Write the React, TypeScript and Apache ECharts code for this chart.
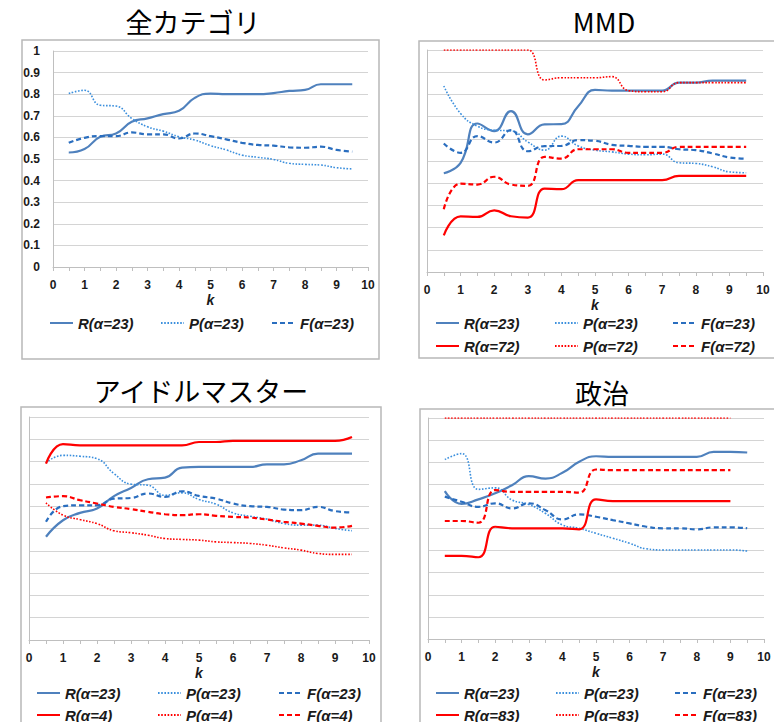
import React, { useEffect, useRef } from 'react';
import * as echarts from 'echarts';

// k values (x)
const K = [0.5, 1, 1.5, 2, 2.5, 3, 3.5, 4, 4.5, 5, 5.5, 6, 6.5, 7, 7.5, 8, 8.5, 9, 9.5];
const X_TICKS = [0, 1, 2, 3, 4, 5, 6, 7, 8, 9, 10];
const TITLES = ['全カテゴリ', 'MMD', 'アイドルマスター', '政治'];

// 全カテゴリ
const ALL_R23 = [0.53, 0.546, 0.603, 0.618, 0.672, 0.688, 0.708, 0.723, 0.783, 0.803, 0.8, 0.8, 0.8, 0.805, 0.815, 0.82, 0.846, 0.846, 0.846];
const ALL_P23 = [0.803, 0.818, 0.749, 0.745, 0.688, 0.649, 0.629, 0.603, 0.588, 0.562, 0.542, 0.518, 0.508, 0.498, 0.48, 0.475, 0.472, 0.46, 0.454];
const ALL_F23 = [0.575, 0.598, 0.606, 0.606, 0.623, 0.614, 0.614, 0.595, 0.618, 0.606, 0.591, 0.575, 0.565, 0.562, 0.554, 0.552, 0.557, 0.542, 0.534];

// MMD
const MMD_R23 = [0.445, 0.492, 0.669, 0.635, 0.725, 0.62, 0.665, 0.666, 0.747, 0.82, 0.817, 0.817, 0.817, 0.817, 0.853, 0.853, 0.862, 0.862, 0.862];
const MMD_P23 = [0.838, 0.714, 0.657, 0.639, 0.636, 0.586, 0.549, 0.612, 0.568, 0.549, 0.541, 0.531, 0.528, 0.531, 0.492, 0.489, 0.474, 0.451, 0.447];
const MMD_F23 = [0.579, 0.537, 0.612, 0.583, 0.639, 0.544, 0.567, 0.568, 0.594, 0.591, 0.573, 0.568, 0.564, 0.564, 0.553, 0.549, 0.534, 0.516, 0.51];
const MMD_R72 = [0.165, 0.251, 0.248, 0.278, 0.251, 0.245, 0.376, 0.373, 0.414, 0.414, 0.414, 0.414, 0.414, 0.414, 0.433, 0.433, 0.433, 0.433, 0.433];
const MMD_P72 = [1, 1, 1, 1, 1, 1, 0.865, 0.875, 0.875, 0.875, 0.88, 0.817, 0.812, 0.812, 0.853, 0.853, 0.853, 0.853, 0.853];
const MMD_F72 = [0.283, 0.398, 0.394, 0.429, 0.394, 0.388, 0.519, 0.511, 0.553, 0.553, 0.553, 0.537, 0.537, 0.537, 0.564, 0.564, 0.564, 0.564, 0.564];

// アイドルマスター
const IDOL_R23 = [0.463, 0.537, 0.57, 0.59, 0.645, 0.682, 0.721, 0.728, 0.773, 0.776, 0.776, 0.776, 0.776, 0.788, 0.788, 0.806, 0.836, 0.836, 0.836];
const IDOL_P23 = [0.794, 0.828, 0.824, 0.813, 0.746, 0.699, 0.694, 0.649, 0.66, 0.63, 0.609, 0.57, 0.555, 0.542, 0.522, 0.515, 0.515, 0.5, 0.49];
const IDOL_F23 = [0.53, 0.6, 0.604, 0.604, 0.634, 0.637, 0.657, 0.642, 0.667, 0.646, 0.634, 0.612, 0.6, 0.597, 0.585, 0.582, 0.597, 0.578, 0.572];
const IDOL_R4 = [0.791, 0.878, 0.873, 0.873, 0.873, 0.873, 0.873, 0.873, 0.873, 0.888, 0.888, 0.893, 0.893, 0.893, 0.893, 0.893, 0.893, 0.893, 0.91];
const IDOL_P4 = [0.615, 0.56, 0.54, 0.522, 0.49, 0.481, 0.47, 0.455, 0.451, 0.448, 0.44, 0.437, 0.433, 0.425, 0.413, 0.403, 0.388, 0.384, 0.384];
const IDOL_F4 = [0.639, 0.645, 0.627, 0.612, 0.597, 0.587, 0.575, 0.564, 0.56, 0.564, 0.557, 0.552, 0.549, 0.54, 0.53, 0.522, 0.512, 0.504, 0.512];

// 政治
const POL_R23 = [0.669, 0.611, 0.632, 0.659, 0.696, 0.737, 0.726, 0.752, 0.802, 0.827, 0.824, 0.824, 0.824, 0.824, 0.824, 0.824, 0.847, 0.847, 0.844];
const POL_P23 = [0.812, 0.839, 0.677, 0.684, 0.629, 0.609, 0.568, 0.516, 0.501, 0.478, 0.456, 0.433, 0.408, 0.403, 0.403, 0.403, 0.403, 0.403, 0.398];
const POL_F23 = [0.644, 0.621, 0.598, 0.614, 0.591, 0.614, 0.583, 0.541, 0.564, 0.553, 0.538, 0.523, 0.508, 0.501, 0.501, 0.496, 0.505, 0.505, 0.501];
const POL_R83 = [0.376, 0.376, 0.37, 0.508, 0.501, 0.501, 0.501, 0.501, 0.496, 0.632, 0.624, 0.624, 0.624, 0.624, 0.624, 0.624, 0.624, 0.624];
const POL_P83 = [1, 1, 1, 1, 1, 1, 1, 1, 1, 1, 1, 1, 1, 1, 1, 1, 1, 1];
const POL_F83 = [0.534, 0.534, 0.526, 0.674, 0.666, 0.666, 0.666, 0.666, 0.662, 0.767, 0.764, 0.764, 0.764, 0.764, 0.764, 0.764, 0.764, 0.764];

const C_R = '#4f81bd';
const C_P = '#3b8fdd';
const C_F = '#2a6ebf';
const C_RED = '#ff0000';

type S = { name: string; vals: number[]; color: string; kind: 'R' | 'P' | 'F' };

const PANELS: { series: S[]; grid: any; box: number[]; title: number[]; legendX: number[]; legendY: number[]; yLabels: boolean }[] = [
  {
    series: [
      { name: 'R(α=23)', vals: ALL_R23, color: C_R, kind: 'R' },
      { name: 'P(α=23)', vals: ALL_P23, color: C_P, kind: 'P' },
      { name: 'F(α=23)', vals: ALL_F23, color: C_F, kind: 'F' },
    ],
    grid: { left: 53, top: 51, width: 315, height: 216 },
    box: [22, 40, 357, 319],
    title: [193, 21],
    legendX: [77, 188, 299],
    legendY: [323],
    yLabels: true,
  },
  {
    series: [
      { name: 'R(α=23)', vals: MMD_R23, color: C_R, kind: 'R' },
      { name: 'P(α=23)', vals: MMD_P23, color: C_P, kind: 'P' },
      { name: 'F(α=23)', vals: MMD_F23, color: C_F, kind: 'F' },
      { name: 'R(α=72)', vals: MMD_R72, color: C_RED, kind: 'R' },
      { name: 'P(α=72)', vals: MMD_P72, color: C_RED, kind: 'P' },
      { name: 'F(α=72)', vals: MMD_F72, color: C_RED, kind: 'F' },
    ],
    grid: { left: 427, top: 50, width: 336, height: 222 },
    box: [419, 41, 370, 317],
    title: [604, 21],
    legendX: [463, 582, 700],
    legendY: [323, 346],
    yLabels: false,
  },
  {
    series: [
      { name: 'R(α=23)', vals: IDOL_R23, color: C_R, kind: 'R' },
      { name: 'P(α=23)', vals: IDOL_P23, color: C_P, kind: 'P' },
      { name: 'F(α=23)', vals: IDOL_F23, color: C_F, kind: 'F' },
      { name: 'R(α=4)', vals: IDOL_R4, color: C_RED, kind: 'R' },
      { name: 'P(α=4)', vals: IDOL_P4, color: C_RED, kind: 'P' },
      { name: 'F(α=4)', vals: IDOL_F4, color: C_RED, kind: 'F' },
    ],
    grid: { left: 29, top: 417, width: 340, height: 223 },
    box: [21, 407, 360, 330],
    title: [201, 390],
    legendX: [64, 185, 306],
    legendY: [693, 715],
    yLabels: false,
  },
  {
    series: [
      { name: 'R(α=23)', vals: POL_R23, color: C_R, kind: 'R' },
      { name: 'P(α=23)', vals: POL_P23, color: C_P, kind: 'P' },
      { name: 'F(α=23)', vals: POL_F23, color: C_F, kind: 'F' },
      { name: 'R(α=83)', vals: POL_R83, color: C_RED, kind: 'R' },
      { name: 'P(α=83)', vals: POL_P83, color: C_RED, kind: 'P' },
      { name: 'F(α=83)', vals: POL_F83, color: C_RED, kind: 'F' },
    ],
    grid: { left: 428, top: 418, width: 336, height: 221 },
    box: [420, 409, 370, 330],
    title: [602, 392],
    legendX: [463, 583, 702],
    legendY: [693, 715],
    yLabels: false,
  },
];

const FONT = "'Liberation Sans', Arial, sans-serif";

function lineStyleFor(kind: string, color: string) {
  if (kind === 'R') return { color, width: 2.2, type: 'solid' };
  if (kind === 'P') return { color, width: 1.6, type: [1.6, 1.6] };
  return { color, width: 2.2, type: [5, 3] };
}

function buildOption() {
  const grid: any[] = [];
  const xAxis: any[] = [];
  const yAxis: any[] = [];
  const series: any[] = [];
  const legend: any[] = [];
  const graphic: any[] = [];

  PANELS.forEach((p, i) => {
    grid.push({ ...p.grid, containLabel: false });
    xAxis.push({
      type: 'value',
      gridIndex: i,
      min: X_TICKS[0],
      max: X_TICKS[X_TICKS.length - 1],
      interval: 0.5,
      name: 'k',
      nameLocation: 'middle',
      nameGap: 26,
      nameTextStyle: { fontFamily: FONT, fontSize: 14, fontWeight: 'bold', fontStyle: 'italic', color: '#1a1a1a' },
      axisLine: { show: true, lineStyle: { color: '#bfbfbf', width: 1 } },
      axisTick: { show: true, length: 4, lineStyle: { color: '#bfbfbf' } },
      axisLabel: {
        margin: 12,
        fontFamily: FONT,
        fontSize: 12,
        fontWeight: 'bold',
        color: '#1a1a1a',
        formatter: (v: number) => (X_TICKS.includes(v) ? String(v) : ''),
      },
      splitLine: { show: false },
    });
    yAxis.push({
      type: 'value',
      gridIndex: i,
      min: 0,
      max: 1,
      interval: 0.1,
      axisLine: { show: true, lineStyle: { color: '#bfbfbf', width: 1 } },
      axisTick: { show: false },
      axisLabel: {
        show: p.yLabels,
        margin: 13,
        fontFamily: FONT,
        fontSize: 12,
        fontWeight: 'bold',
        color: '#1a1a1a',
        formatter: (v: number) => String(Math.round(v * 10) / 10),
      },
      splitLine: { show: true, lineStyle: { color: '#d4d4d4', width: 1 } },
    });
    p.series.forEach((s) => {
      series.push({
        name: s.name,
        type: 'line',
        xAxisIndex: i,
        yAxisIndex: i,
        smooth: true,
        symbol: 'none',
        clip: true,
        data: s.vals.map((v, j) => [K[j], v]),
        lineStyle: lineStyleFor(s.kind, s.color),
        itemStyle: { color: s.color },
      });
    });
    p.series.forEach((s, j) => {
      const col = j % 3;
      const row = Math.floor(j / 3);
      legend.push({
        show: true,
        selectedMode: false,
        orient: 'horizontal',
        left: p.legendX[col] - 28,
        top: p.legendY[row] - 8,
        padding: 0,
        itemWidth: 23,
        itemHeight: 14,
        itemGap: 0,
        data: [s.name],
        itemStyle: { opacity: 0, color: 'rgba(0,0,0,0)', borderWidth: 0, borderColor: 'rgba(0,0,0,0)' },
        textStyle: {
          fontFamily: FONT,
          fontSize: 15,
          fontWeight: 'bold',
          fontStyle: 'italic',
          color: '#1a1a1a',
          lineHeight: 16,
        },
      });
    });
    graphic.push({
      type: 'rect',
      silent: true,
      z: -10,
      shape: { x: p.box[0], y: p.box[1], width: p.box[2], height: p.box[3] },
      style: { fill: '#ffffff', stroke: '#b8b8b8', lineWidth: 1.5 },
    });
    graphic.push({
      type: 'text',
      silent: true,
      x: p.title[0],
      y: p.title[1],
      style: {
        text: TITLES[i],
        fontFamily: "'Noto Sans CJK JP', 'Noto Sans', sans-serif",
        fontSize: 27,
        fill: '#000000',
        align: 'center',
        verticalAlign: 'middle',
      },
    });
  });

  return {
    animation: false,
    backgroundColor: '#ffffff',
    textStyle: { fontFamily: FONT },
    grid,
    xAxis,
    yAxis,
    series,
    legend,
    graphic,
  };
}

export default function App() {
  const ref = useRef<HTMLDivElement>(null);
  useEffect(() => {
    if (!ref.current) return;
    const chart = echarts.init(ref.current, undefined, { renderer: 'svg' });
    chart.setOption(buildOption() as any);
    return () => chart.dispose();
  }, []);
  return (
    <div
      ref={ref}
      style={{ position: 'absolute', left: 0, top: 0, width: 774, height: 722 }}
    />
  );
}
